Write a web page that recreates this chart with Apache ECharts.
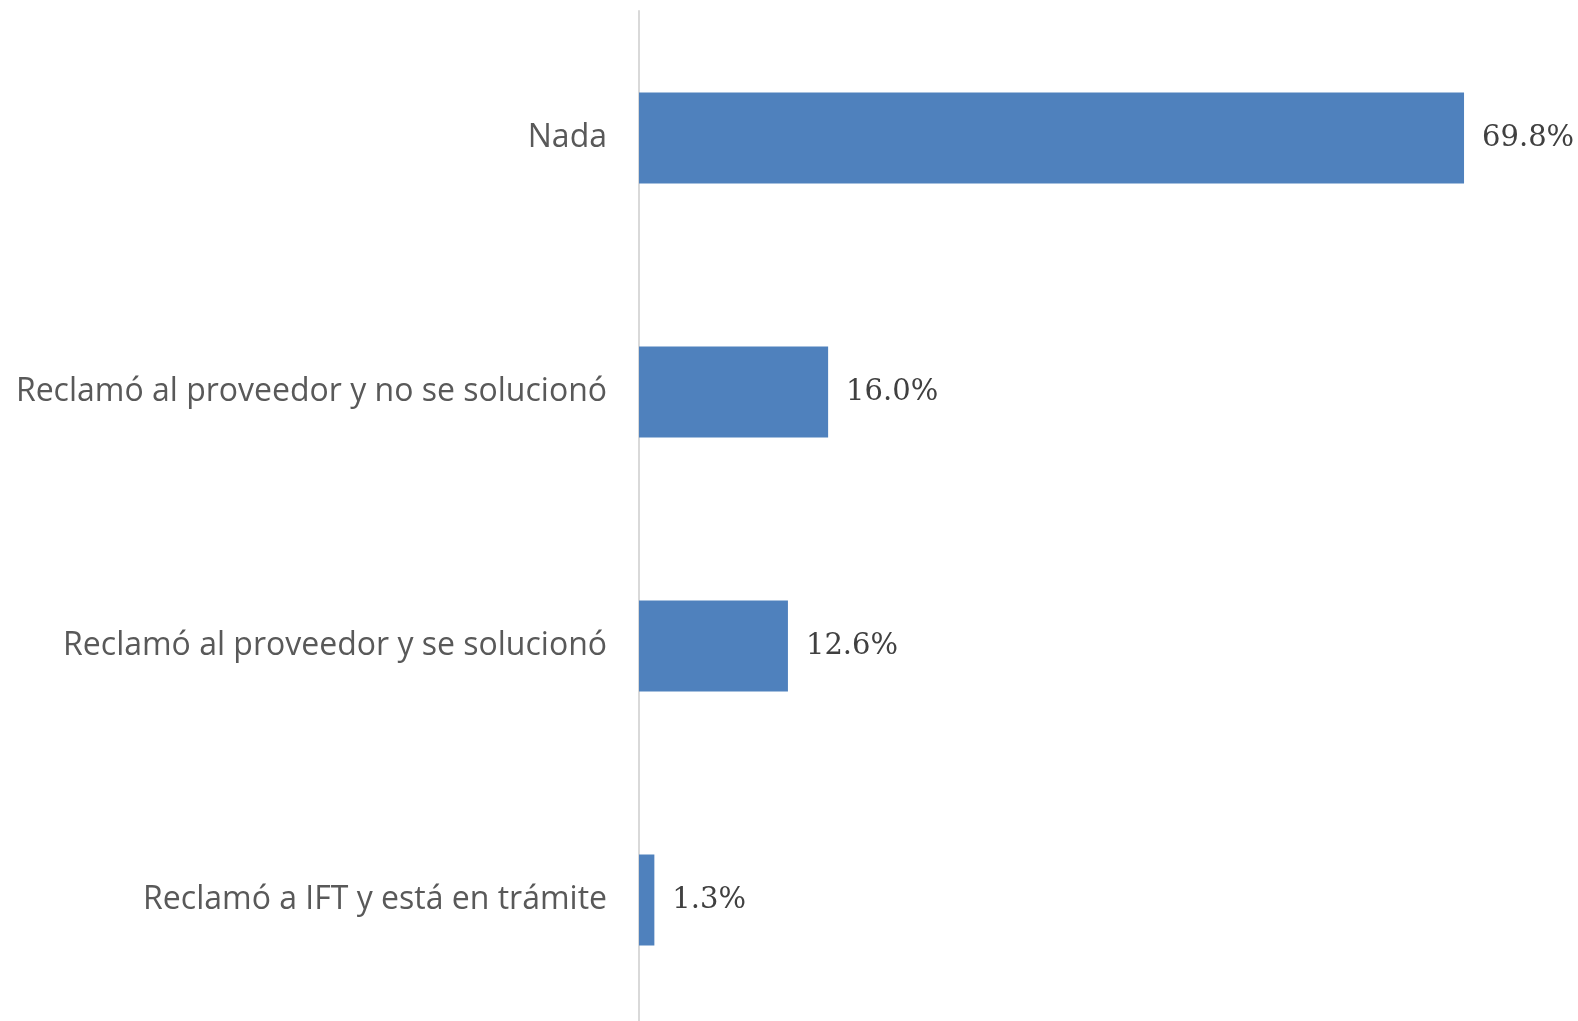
<!DOCTYPE html>
<html><head><meta charset="utf-8">
<script src="https://cdn.jsdelivr.net/npm/echarts@6/dist/echarts.min.js"></script>
<style>html,body{margin:0;padding:0;background:#fff;overflow:hidden}#c{width:1578px;height:1040px}</style>
</head><body><div id="c"></div>
<script>
const categories = ["Nada", "Reclamó al proveedor y no se solucionó", "Reclamó al proveedor y se solucionó", "Reclamó a IFT y está en trámite"];
const values = [69.8, 16.0, 12.6, 1.3];

const chart = echarts.init(document.getElementById('c'));
chart.setOption({
  animation: false,
  grid: { left: 639, top: 11, width: 886.5, height: 1016, containLabel: false },
  xAxis: { type: 'value', min: 0, max: 75, show: false },
  yAxis: {
    type: 'category', data: categories, inverse: true,
    axisLine: { show: true, lineStyle: { color: '#d9d9d9', width: 2 } },
    axisTick: { show: false },
    axisLabel: { color: '#595959', fontFamily: 'Open Sans', fontSize: 32, margin: 32 }
  },
  series: [{
    type: 'bar', data: values, barWidth: 91,
    itemStyle: { color: '#4f81bd' },
    label: { show: true, position: 'right', distance: 18, color: '#404040',
      fontFamily: 'DejaVu Serif', fontSize: 29,
      formatter: p => p.value.toFixed(1) + '%' }
  }]
});
</script></body></html>
